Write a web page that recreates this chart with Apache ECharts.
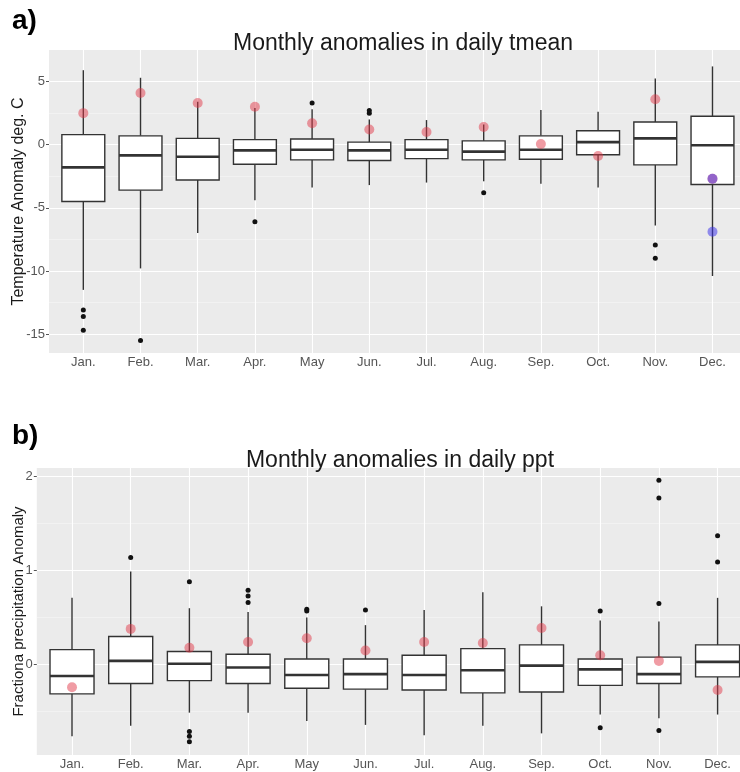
<!DOCTYPE html>
<html>
<head>
<meta charset="utf-8">
<script src="https://cdn.jsdelivr.net/npm/echarts@6/dist/echarts.min.js"></script>
<style>
html,body{margin:0;padding:0;background:#fff;}
#chart{width:740px;height:772px;}
</style>
</head>
<body>
<div id="chart"></div>
<script>
// ---------- data ----------
const months = ['Jan.', 'Feb.', 'Mar.', 'Apr.', 'May', 'Jun.', 'Jul.', 'Aug.', 'Sep.', 'Oct.', 'Nov.', 'Dec.'];

// (a) Monthly anomalies in daily tmean (deg. C)
const tmeanLow  = [-11.5, -9.8, -7.0, -4.4, -3.4, -3.2, -3.0, -2.9, -3.1, -3.4, -6.4, -10.4];
const tmeanQ1   = [-4.5, -3.6, -2.8, -1.55, -1.2, -1.25, -1.1, -1.2, -1.15, -0.8, -1.6, -3.15];
const tmeanMed  = [-1.8, -0.85, -0.95, -0.45, -0.4, -0.45, -0.4, -0.55, -0.4, 0.2, 0.5, -0.05];
const tmeanQ3   = [0.8, 0.7, 0.5, 0.4, 0.45, 0.2, 0.4, 0.3, 0.7, 1.1, 1.8, 2.25];
const tmeanHigh = [5.9, 5.3, 3.4, 2.9, 2.8, 2.0, 1.95, 1.6, 2.75, 2.6, 5.25, 6.2];
const tmeanOutliers = [[-13.1, -13.6, -14.7], [-15.5], [], [-6.1], [3.3], [2.5, 2.7], [], [-3.8], [], [], [-7.95, -9.0], []];
const tmeanRed  = [2.5, 4.1, 3.3, 3.0, 1.7, 1.2, 1.0, 1.4, 0.05, -0.9, 3.6, -2.7];
const tmeanBlue = [[], [], [], [], [], [], [], [], [], [], [], [-2.7, -6.9]];
const tmeanMajorTicks = [-15, -10, -5, 0, 5];
const tmeanMinorTicks = [-12.5, -7.5, -2.5, 2.5];

// (b) Monthly anomalies in daily ppt (fraction)
const pptLow  = [-0.76, -0.65, -0.51, -0.51, -0.6, -0.64, -0.75, -0.65, -0.73, -0.53, -0.57, -0.53];
const pptQ1   = [-0.31, -0.2, -0.17, -0.2, -0.25, -0.26, -0.27, -0.3, -0.29, -0.22, -0.2, -0.13];
const pptMed  = [-0.12, 0.04, 0.01, -0.03, -0.11, -0.1, -0.11, -0.06, -0.01, -0.05, -0.1, 0.03];
const pptQ3   = [0.16, 0.3, 0.14, 0.11, 0.06, 0.06, 0.1, 0.17, 0.21, 0.06, 0.08, 0.21];
const pptHigh = [0.71, 0.99, 0.6, 0.56, 0.5, 0.42, 0.58, 0.77, 0.62, 0.47, 0.46, 0.71];
const pptOutliers = [[], [1.14], [0.88, -0.71, -0.76, -0.82], [0.79, 0.73, 0.66], [0.59, 0.57], [0.58], [], [], [], [0.57, -0.67], [1.96, 1.77, 0.65, -0.7], [1.37, 1.09]];
const pptRed  = [-0.24, 0.38, 0.18, 0.24, 0.28, 0.15, 0.24, 0.23, 0.39, 0.1, 0.04, -0.27];
const pptMajorTicks = [0, 1, 2];
const pptMinorTicks = [-0.5, 0.5, 1.5];

const monthPos = months.map((m, i) => i + 1);

// ---------- helpers ----------
const FONT = 'Liberation Sans, Arial, Helvetica, sans-serif';
const LINE = '#333333';

function boxData(lo, q1, med, q3, hi) {
  return monthPos.map((x, i) => [x, lo[i], q1[i], med[i], q3[i], hi[i]]);
}
function pointData(perMonth) {
  const out = [];
  perMonth.forEach((vals, i) => vals.forEach(v => out.push([monthPos[i], v])));
  return out;
}
function singleData(vals) {
  return vals.map((v, i) => [monthPos[i], v]);
}

function renderBox(params, api) {
  const x = api.value(0);
  const pLo = api.coord([x, api.value(1)]);
  const pQ1 = api.coord([x, api.value(2)]);
  const pMed = api.coord([x, api.value(3)]);
  const pQ3 = api.coord([x, api.value(4)]);
  const pHi = api.coord([x, api.value(5)]);
  const w = api.size([1, 0])[0] * 0.75;
  const cx = pMed[0];
  const st = { stroke: LINE, lineWidth: 1.4, fill: null };
  return {
    type: 'group',
    children: [
      { type: 'line', shape: { x1: cx, y1: pHi[1], x2: cx, y2: pQ3[1] }, style: st },
      { type: 'line', shape: { x1: cx, y1: pQ1[1], x2: cx, y2: pLo[1] }, style: st },
      { type: 'rect', shape: { x: cx - w / 2, y: pQ3[1], width: w, height: pQ1[1] - pQ3[1] },
        style: { fill: '#ffffff', stroke: LINE, lineWidth: 1.4 } },
      { type: 'line', shape: { x1: cx - w / 2, y1: pMed[1], x2: cx + w / 2, y2: pMed[1] },
        style: { stroke: LINE, lineWidth: 2.6 } }
    ]
  };
}

function xAxisDef(gridIndex) {
  return {
    type: 'value', gridIndex: gridIndex, min: 0.4, max: 12.6,
    axisLine: { show: false },
    axisTick: { show: true, length: 3, lineStyle: { color: '#555', width: 1 }, customValues: monthPos },
    axisLabel: { customValues: monthPos, formatter: v => months[Math.round(v) - 1] || '',
      color: '#555', fontSize: 13, fontFamily: FONT, margin: 3 },
    splitLine: { show: true, lineStyle: { color: '#ffffff', width: 1.1 } }
  };
}

const chart = echarts.init(document.getElementById('chart'), null, { renderer: 'canvas' });

const option = {
  animation: false,
  backgroundColor: '#ffffff',
  textStyle: { fontFamily: FONT },
  title: [
    { text: 'a)', left: 7, top: 2, textStyle: { fontSize: 28, fontWeight: 'bold', color: '#000', fontFamily: FONT } },
    { text: 'Monthly anomalies in daily tmean', left: 398, top: 27, textAlign: 'center',
      textStyle: { fontSize: 23, fontWeight: 'normal', color: '#1a1a1a', fontFamily: FONT } },
    { text: 'b)', left: 7, top: 417, textStyle: { fontSize: 28, fontWeight: 'bold', color: '#000', fontFamily: FONT } },
    { text: 'Monthly anomalies in daily ppt', left: 395, top: 444, textAlign: 'center',
      textStyle: { fontSize: 23, fontWeight: 'normal', color: '#1a1a1a', fontFamily: FONT } }
  ],
  grid: [
    { left: 49, top: 50, width: 697.8, height: 303, show: true, backgroundColor: '#EBEBEB', borderWidth: 0,
      outerBoundsMode: 'none', containLabel: false },
    { left: 36.8, top: 468, width: 716, height: 287, show: true, backgroundColor: '#EBEBEB', borderWidth: 0,
      outerBoundsMode: 'none', containLabel: false }
  ],
  xAxis: [xAxisDef(0), xAxisDef(1)],
  yAxis: [
    { type: 'value', gridIndex: 0, min: -16.5, max: 7.5,
      name: 'Temperature Anomaly deg. C', nameLocation: 'middle', nameGap: 22, nameMoveOverlap: false,
      nameTextStyle: { fontSize: 16, color: '#1a1a1a', fontFamily: FONT },
      axisLine: { show: false },
      axisTick: { show: true, length: 3, lineStyle: { color: '#555' }, customValues: tmeanMajorTicks },
      axisLabel: { customValues: tmeanMajorTicks, color: '#555', fontSize: 13, fontFamily: FONT, margin: 4 },
      splitLine: { show: true, lineStyle: { color: '#ffffff', width: 1.1 } } },
    { type: 'value', gridIndex: 0, min: -16.5, max: 7.5, position: 'left',
      axisLine: { show: false }, axisTick: { show: false, customValues: tmeanMinorTicks },
      axisLabel: { show: false, customValues: tmeanMinorTicks },
      splitLine: { show: true, lineStyle: { color: 'rgba(255,255,255,0.6)', width: 0.6 } } },
    { type: 'value', gridIndex: 1, min: -0.96, max: 2.09,
      name: 'Fractiona precipitation Anomaly', nameLocation: 'middle', nameGap: 10, nameMoveOverlap: false,
      nameTextStyle: { fontSize: 15, color: '#1a1a1a', fontFamily: FONT },
      axisLine: { show: false },
      axisTick: { show: true, length: 3, lineStyle: { color: '#555' }, customValues: pptMajorTicks },
      axisLabel: { customValues: pptMajorTicks, color: '#555', fontSize: 13, fontFamily: FONT, margin: 4 },
      splitLine: { show: true, lineStyle: { color: '#ffffff', width: 1.1 } } },
    { type: 'value', gridIndex: 1, min: -0.96, max: 2.09, position: 'left',
      axisLine: { show: false }, axisTick: { show: false, customValues: pptMinorTicks },
      axisLabel: { show: false, customValues: pptMinorTicks },
      splitLine: { show: true, lineStyle: { color: 'rgba(255,255,255,0.6)', width: 0.6 } } }
  ],
  series: [
    { type: 'custom', xAxisIndex: 0, yAxisIndex: 0, renderItem: renderBox,
      encode: { x: 0, y: [1, 2, 3, 4, 5] }, data: boxData(tmeanLow, tmeanQ1, tmeanMed, tmeanQ3, tmeanHigh), z: 2 },
    { type: 'scatter', xAxisIndex: 0, yAxisIndex: 0, symbolSize: 5, itemStyle: { color: '#111', opacity: 1 },
      data: pointData(tmeanOutliers), z: 3 },
    { type: 'scatter', xAxisIndex: 0, yAxisIndex: 0, symbolSize: 10, itemStyle: { color: 'rgba(225,55,70,0.62)' },
      data: singleData(tmeanRed), z: 4 },
    { type: 'scatter', xAxisIndex: 0, yAxisIndex: 0, symbolSize: 10, itemStyle: { color: 'rgba(60,50,235,0.65)' },
      data: pointData(tmeanBlue), z: 5 },

    { type: 'custom', xAxisIndex: 1, yAxisIndex: 2, renderItem: renderBox,
      encode: { x: 0, y: [1, 2, 3, 4, 5] }, data: boxData(pptLow, pptQ1, pptMed, pptQ3, pptHigh), z: 2 },
    { type: 'scatter', xAxisIndex: 1, yAxisIndex: 2, symbolSize: 5, itemStyle: { color: '#111', opacity: 1 },
      data: pointData(pptOutliers), z: 3 },
    { type: 'scatter', xAxisIndex: 1, yAxisIndex: 2, symbolSize: 10, itemStyle: { color: 'rgba(225,55,70,0.62)' },
      data: singleData(pptRed), z: 4 }
  ]
};
chart.setOption(option);
</script>
</body>
</html>
